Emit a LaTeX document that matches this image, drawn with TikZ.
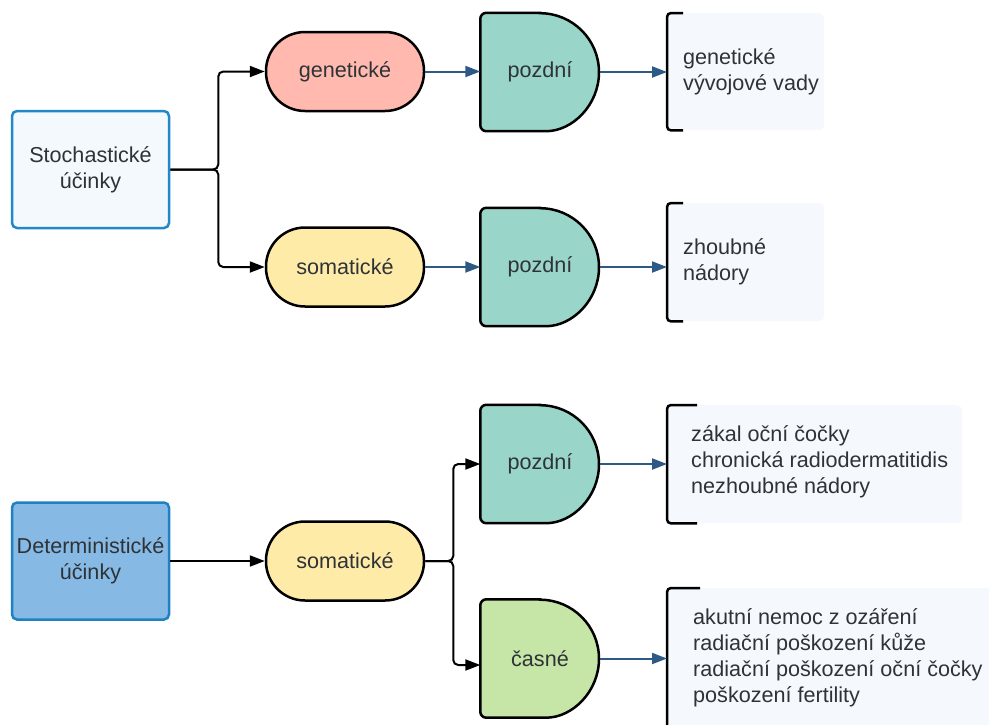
\documentclass[tikz,border=0pt]{standalone}
\usepackage{fontspec}
\setmainfont{Liberation Sans}
\usetikzlibrary{arrows.meta,backgrounds}

\definecolor{textclr}{HTML}{2E3338}
\definecolor{stochfill}{HTML}{F4F9FE}
\definecolor{stochline}{HTML}{2188C9}
\definecolor{detfill}{HTML}{86BAE4}
\definecolor{detline}{HTML}{1F81C4}
\definecolor{genfill}{HTML}{FFB9AE}
\definecolor{somfill}{HTML}{FFEBA8}
\definecolor{latefill}{HTML}{9AD5C9}
\definecolor{earlyfill}{HTML}{C6E6A8}
\definecolor{notefill}{HTML}{F5F9FE}
\definecolor{arrowblue}{HTML}{2C5A85}

\begin{document}
\begin{tikzpicture}[
  x=1pt, y=-1pt,
  every node/.style={font=\fontsize{21.6}{26}\selectfont, text=textclr},
  effect/.style={rectangle, draw, line width=2.5pt, rounded corners=5pt, minimum width=157pt, minimum height=117pt, align=center, inner sep=2pt},
  pill/.style={rectangle, draw=black, line width=2.5pt, rounded corners=39pt, minimum width=158pt, minimum height=79pt},
  half/.style={rectangle, minimum width=119pt, minimum height=118pt, inner sep=0pt},
  dshape/.style={draw=black, line width=2.5pt},
  note/.style={rectangle, fill=notefill, rounded corners=5pt, inner sep=0pt, anchor=north west},
  notetext/.style={anchor=west, align=left, inner sep=0pt},
  bracket/.style={draw=black, line width=2.5pt, rounded corners=4pt},
  arr/.style={-{Triangle[length=15pt,width=11pt]}, line width=2pt, rounded corners=5pt},
  blarr/.style={-{Triangle[length=15pt,width=11pt]}, line width=2pt, draw=arrowblue, fill=arrowblue}
]
  \useasboundingbox (0,0) rectangle (989,724);
  \clip (0,0) rectangle (989,724);

  % stochastic branch
  \node[effect, draw=stochline, fill=stochfill] (stoch) at (90.5,169.5) {Stochastické\\účinky};
  \node[pill, fill=genfill] (gen) at (345,71.5) {genetické};
  \node[pill, fill=somfill] (som) at (345,267) {somatické};
  \node[half] (dgen) at (540,72) {pozdní};
  \node[half] (dsom) at (540,267) {pozdní};
  \node[note, minimum width=157pt, minimum height=117pt] (n1) at (667,13) {};
  \node[notetext] (t1) at ([xshift=16pt]n1.west) {genetické\\vývojové vady};
  \node[note, minimum width=157pt, minimum height=118pt] (n2) at (667,203) {};
  \node[notetext] (t2) at ([xshift=16pt]n2.west) {zhoubné\\nádory};

  % deterministic branch
  \node[effect, draw=detline, fill=detfill] (det) at (90.5,561) {Deterministické\\účinky};
  \node[pill, fill=somfill] (somb) at (345,561) {somatické};
  \node[half] (dlate) at (540,464) {pozdní};
  \node[half] (dearly) at (540,658.5) {časné};
  \node[note, minimum width=295pt, minimum height=118pt] (n3) at (667,405) {};
  \node[notetext] (t3) at ([xshift=24pt,yshift=2pt]n3.west) {zákal oční čočky\\chronická radiodermatitidis\\nezhoubné nádory};
  \node[note, minimum width=340pt, minimum height=140pt] (n4) at (667,588) {};
  \node[notetext] (t4) at ([xshift=26pt]n4.west) {akutní nemoc z ozáření\\radiační poškození kůže\\radiační poškození oční čočky\\poškození fertility};

  % half-disc outlines behind the labels
  \begin{scope}[on background layer]
    \foreach \n/\c in {dgen/latefill, dsom/latefill, dlate/latefill, dearly/earlyfill}
      \draw[dshape, fill=\c] (\n.north) [rounded corners=6pt] -- (\n.north west) -- (\n.south west) -- (\n.south) [sharp corners] arc[start angle=-90, end angle=90, radius=59pt] -- cycle;
  \end{scope}

  % brackets
  \draw[bracket] ([xshift=16pt]n1.north west) -- (n1.north west) -- (n1.south west) -- ([xshift=16pt]n1.south west);
  \draw[bracket] ([xshift=16pt]n2.north west) -- (n2.north west) -- (n2.south west) -- ([xshift=16pt]n2.south west);
  \draw[bracket] ([xshift=30pt]n3.north west) -- (n3.north west) -- (n3.south west) -- ([xshift=30pt]n3.south west);
  \draw[bracket] ([xshift=33pt]n4.north west) -- (n4.north west) -- (n4.south west);

  % connectors
  \draw[arr] (stoch.east) -- ++(48,0) |- (gen.west);
  \draw[arr] (stoch.east) -- ++(48,0) |- (som.west);
  \draw[blarr] (gen.east) -- (gen.east -| dgen.west);
  \draw[blarr] (som.east) -- (som.east -| dsom.west);
  \draw[blarr] (dgen.east) -- (dgen.east -| n1.west);
  \draw[blarr] (dsom.east) -- (dsom.east -| n2.west);

  \draw[arr] (det.east) -- (somb.west);
  \draw[arr] (somb.east) -- ++(28,0) |- (dlate.west);
  \draw[arr] (somb.east) -- ++(28,0) |- ([yshift=-6.5pt]dearly.west);
  \draw[blarr] (dlate.east) -- (dlate.east -| n3.west);
  \draw[blarr] (dearly.east) -- (dearly.east -| n4.west);
\end{tikzpicture}
\end{document}
